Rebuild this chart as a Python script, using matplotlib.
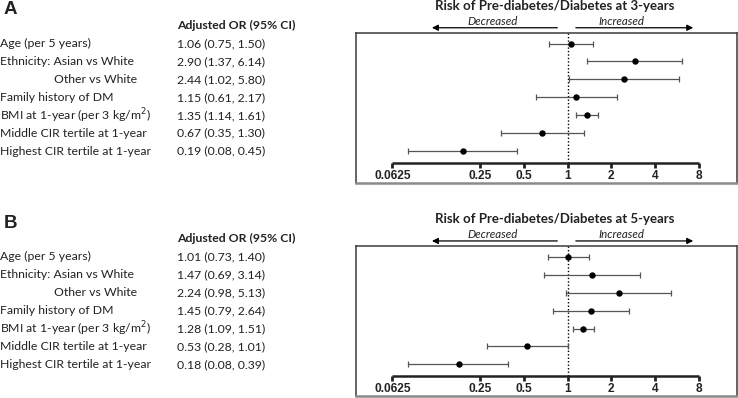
import matplotlib
matplotlib.use("Agg")
import matplotlib.pyplot as plt
import numpy as np

W, H = 738, 398

row_labels = ["Age (per 5 years)", "Ethnicity: Asian vs White", "Other vs White",
              "Family history of DM", "BMI at 1-year (per 3 kg/m$^2$)",
              "Middle CIR tertile at 1-year", "Highest CIR tertile at 1-year"]
label_indent = [0, 0, 1, 0, 0, 0, 0]

or_3y = [1.06, 2.90, 2.44, 1.15, 1.35, 0.67, 0.19]
lo_3y = [0.75, 1.37, 1.02, 0.61, 1.14, 0.35, 0.08]
hi_3y = [1.50, 6.14, 5.80, 2.17, 1.61, 1.30, 0.45]

or_5y = [1.01, 1.47, 2.24, 1.45, 1.28, 0.53, 0.18]
lo_5y = [0.73, 0.69, 0.98, 0.79, 1.09, 0.28, 0.08]
hi_5y = [1.40, 3.14, 5.13, 2.64, 1.51, 1.01, 0.39]

ticks = [0.0625, 0.25, 0.5, 1, 2, 4, 8]
tick_labels = ["0.0625", "0.25", "0.5", "1", "2", "4", "8"]

panels = [("A", "Risk of Pre-diabetes/Diabetes at 3-years", or_3y, lo_3y, hi_3y),
          ("B", "Risk of Pre-diabetes/Diabetes at 5-years", or_5y, lo_5y, hi_5y)]

LFONT = "Lato"
FS = 8.8
fig = plt.figure(figsize=(W / 100, H / 100), dpi=100)


def fx(px):
    return px / W


def fy(py):
    return 1 - py / H


row_gap = 17.95
for p, (letter, title, orv, lov, hiv) in enumerate(panels):
    off = 213.2 * p
    # panel letter
    fig.text(fx(4), fy(10 + off), letter, fontsize=13.5, fontweight="bold",
             family="Liberation Sans", va="center", ha="left", color="#222222")
    fig.text(fx(177), fy(25 + off), "Adjusted OR (95% CI)", fontsize=FS,
             fontweight="bold", family=LFONT, va="center", ha="left",
             color="#222222")
    for i, lab in enumerate(row_labels):
        yy = 43.5 + i * row_gap + off
        x0 = 54.5 if label_indent[i] else 0.5
        fig.text(fx(x0), fy(yy), lab, fontsize=FS, family=LFONT,
                 va="center", ha="left", color="#222222")
        fig.text(fx(177), fy(yy), f"{orv[i]:.2f} ({lov[i]:.2f}, {hiv[i]:.2f})",
                 fontsize=FS, family=LFONT, va="center", ha="left",
                 color="#222222")

    # forest box
    top = 33 + off
    ax = fig.add_axes([fx(356), fy(top + 150), (737 - 356) / W, 150 / H])
    ax.set_xscale("log", base=2)
    ax.set_xlim(2 ** -4.829, 2 ** 3.868)
    y_top = (33 - 43.5) / row_gap
    y_bot = (183 - 43.5) / row_gap
    ax.set_ylim(y_bot, y_top)
    ax.set_xticks([])
    ax.set_yticks([])
    ax.minorticks_off()
    for s in ax.spines.values():
        s.set_color("#3a3a3a")
        s.set_linewidth(1.1)
    ax.spines["bottom"].set_color("#8a8a8a")
    ax.spines["bottom"].set_linewidth(1.8)

    ys = np.arange(len(orv))
    orr = np.array(orv)
    ax.errorbar(orr, ys, xerr=[orr - np.array(lov), np.array(hiv) - orr],
                fmt="o", color="black", ms=3.6, ecolor="#555555", elinewidth=0.9,
                capsize=2.5, capthick=0.9, zorder=3)

    y_axis = (163 - 43.5) / row_gap
    ax.vlines(1, y_top, y_axis, colors="black", linestyles=(0, (1, 1.5)), lw=1.0)
    ax.plot([ticks[0], ticks[-1]], [y_axis, y_axis], color="#222222", lw=1.8,
            solid_capstyle="butt")
    tick_len = 4.5 / row_gap
    for t, tl in zip(ticks, tick_labels):
        ax.plot([t, t], [y_axis, y_axis + tick_len], color="#222222", lw=2.0,
                solid_capstyle="butt")
        ax.text(t, (175.5 - 43.5) / row_gap, tl, ha="center", va="center",
                fontsize=8.6, fontweight="bold", family="Liberation Sans",
                color="#222222")

    # title and arrows
    ax.text(0.82, 1.18, title, transform=ax.get_xaxis_transform(), ha="center",
            va="center", fontsize=9.5, fontweight="bold", family=LFONT,
            clip_on=False, color="#222222")
    ax.annotate("", xy=(0.117, 1.035), xytext=(0.85, 1.035),
                xycoords=ax.get_xaxis_transform(), textcoords=ax.get_xaxis_transform(),
                arrowprops=dict(arrowstyle="-|>", color="black", lw=0.9,
                                mutation_scale=9, shrinkA=0, shrinkB=0))
    ax.annotate("", xy=(7.3, 1.035), xytext=(1.14, 1.035),
                xycoords=ax.get_xaxis_transform(), textcoords=ax.get_xaxis_transform(),
                arrowprops=dict(arrowstyle="-|>", color="black", lw=0.9,
                                mutation_scale=9, shrinkA=0, shrinkB=0))
    ax.text(0.308, 1.075, "Decreased", transform=ax.get_xaxis_transform(),
            ha="center", va="center", fontsize=8.3, style="italic", family=LFONT,
            clip_on=False, color="#222222")
    ax.text(2.33, 1.075, "Increased", transform=ax.get_xaxis_transform(),
            ha="center", va="center", fontsize=8.3, style="italic", family=LFONT,
            clip_on=False, color="#222222")

fig.savefig("out.png", dpi=100)
